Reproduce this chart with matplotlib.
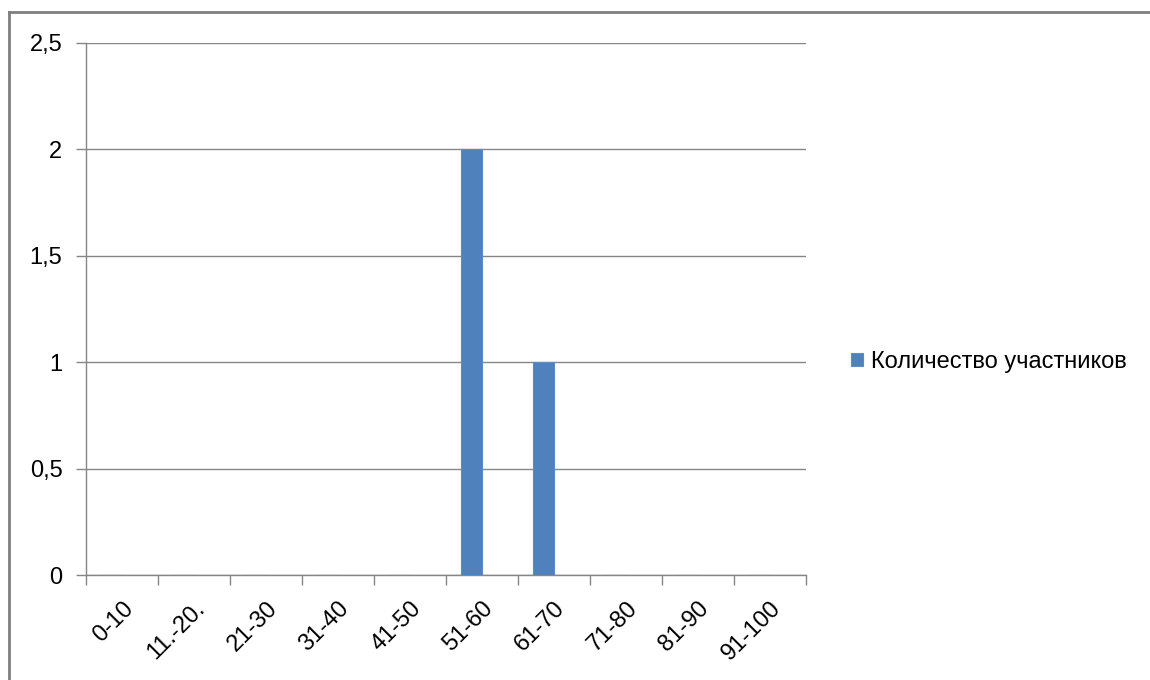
import numpy as np
import matplotlib
matplotlib.use('Agg')
import matplotlib.pyplot as plt
import matplotlib.transforms as mtransforms
from matplotlib.lines import Line2D

categories = ['0-10', '11.-20.', '21-30', '31-40', '41-50', '51-60',
              '61-70', '71-80', '81-90', '91-100']
participants = [0, 0, 0, 0, 0, 2, 1, 0, 0, 0]
series_name = 'Количество участников'
yticks = [0, 0.5, 1, 1.5, 2, 2.5]
ytick_labels = ['0', '0,5', '1', '1,5', '2', '2,5']

plt.rcParams['font.family'] = ['Liberation Sans', 'DejaVu Sans']
plt.rcParams['font.size'] = 17

fig = plt.figure(figsize=(11.5, 6.8), dpi=100)
ax = fig.add_axes([86 / 1150, 1 - 575 / 680, 720 / 1150, 532 / 680])

grey = '#868686'
x = np.arange(len(categories)) + 0.5
# Excel layout: two series per category, gap width 150%, only the first has data
w = 1 / 3.5
ax.bar(x - w / 2, participants, width=w, color='#4f81bd', edgecolor='#5b8cc6',
       linewidth=0.8, label=series_name, zorder=3)

ax.set_xlim(0, len(categories))
ax.set_ylim(0, 2.5)
ax.set_yticks(yticks)
ax.set_yticklabels(ytick_labels)
ax.yaxis.grid(True, color=grey, linewidth=1)
ax.set_axisbelow(True)

ax.set_xticks(x)
ax.set_xticklabels(categories, rotation=45, ha='right', va='top',
                   rotation_mode='anchor')
shift = mtransforms.ScaledTranslation(4 / 100, 0, fig.dpi_scale_trans)
for lbl in ax.get_xticklabels():
    lbl.set_transform(lbl.get_transform() + shift)
ax.set_xticks(np.arange(len(categories) + 1), minor=True)
ax.tick_params(axis='x', which='major', length=0, pad=16)
ax.tick_params(axis='x', which='minor', length=7, color=grey, width=1)
ax.tick_params(axis='y', length=7, color=grey, width=1, pad=10)

for s in ['top', 'right']:
    ax.spines[s].set_visible(False)
for s in ['left', 'bottom']:
    ax.spines[s].set_color(grey)
    ax.spines[s].set_linewidth(1)

fig.legend(loc='center left', bbox_to_anchor=(830 / 1150, 1 - 362 / 680),
           frameon=False, handlelength=0.5, handleheight=0.5, handletextpad=0.35)

# outer chart border (top and left edges visible)
fig.add_artist(Line2D([9 / 1150, 9 / 1150], [0, 1 - 12 / 680],
                      transform=fig.transFigure, color='#7f7f7f', linewidth=2))
fig.add_artist(Line2D([9 / 1150, 1], [1 - 12 / 680, 1 - 12 / 680],
                      transform=fig.transFigure, color='#7f7f7f', linewidth=2))

fig.savefig('out.png', dpi=100)
